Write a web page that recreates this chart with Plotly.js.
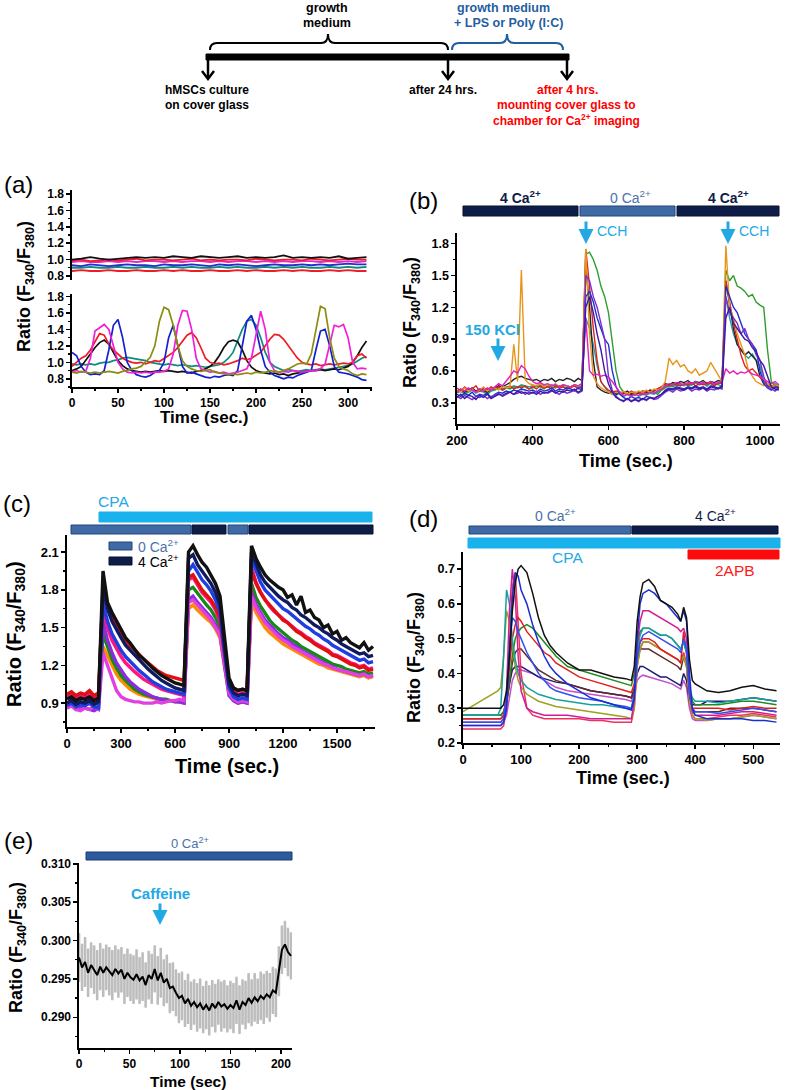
<!DOCTYPE html>
<html><head><meta charset="utf-8">
<script src="https://cdn.plot.ly/plotly-3.0.1.min.js"></script>
<style>html,body{margin:0;padding:0;background:#fff}#chart{width:787px;height:1090px}</style>
</head><body><div id="chart"></div>
<script>
// ---------------- DATA ----------------
// Panel (a) top: quiet cells (LPS / Poly(I:C) treated)
const tA10 = [0,10,20,30,40,50,60,70,80,90,100,110,120,130,140,150,160,170,180,190,200,210,220,230,240,250,260,270,280,290,300,310,320];
const aTopBlack = [1.00,1.01,1.03,1.01,1.00,1.01,1.02,1.03,1.02,1.03,1.02,1.04,1.03,1.02,1.04,1.03,1.02,1.03,1.04,1.02,1.03,1.02,1.03,1.05,1.02,1.03,1.02,1.03,1.02,1.04,1.01,1.02,1.03];
const aTopRed = [0.99,1.00,0.98,0.99,1.00,0.99,1.00,1.01,0.99,1.00,1.00,0.99,1.00,1.01,0.99,1.00,0.99,1.00,1.00,0.99,1.01,1.00,0.99,1.00,1.00,0.99,1.01,1.00,0.99,1.00,1.01,1.00,1.00];
const aTopMagenta = [0.97,0.98,0.97,0.97,0.98,0.97,0.98,0.97,0.98,0.98,0.97,0.98,0.97,0.98,0.98,0.97,0.98,0.97,0.98,0.98,0.97,0.98,0.97,0.98,0.97,0.98,0.98,0.97,0.98,0.97,0.98,0.97,0.98];
const aTopBlue = [0.93,0.92,0.94,0.93,0.92,0.93,0.94,0.93,0.93,0.92,0.94,0.93,0.93,0.94,0.93,0.92,0.94,0.93,0.94,0.93,0.92,0.93,0.94,0.93,0.93,0.94,0.93,0.94,0.93,0.94,0.95,0.94,0.94];
const aTopTeal = [0.90,0.90,0.91,0.90,0.90,0.91,0.90,0.90,0.91,0.90,0.90,0.91,0.90,0.91,0.90,0.90,0.91,0.90,0.91,0.90,0.90,0.91,0.90,0.91,0.90,0.91,0.90,0.90,0.91,0.90,0.91,0.90,0.91];
const aTopRed2 = [0.86,0.87,0.86,0.86,0.87,0.86,0.86,0.87,0.86,0.86,0.87,0.86,0.87,0.86,0.86,0.87,0.86,0.86,0.87,0.86,0.87,0.86,0.86,0.87,0.86,0.87,0.86,0.86,0.87,0.86,0.87,0.86,0.86];

// Panel (a) bottom: oscillating control cells
const tA5 = [0,5,10,15,20,25,30,35,40,45,50,55,60,65,70,75,80,85,90,95,100,105,110,115,120,125,130,135,140,145,150,155,160,165,170,175,180,185,190,195,200,205,210,215,220,225,230,235,240,245,250,255,260,265,270,275,280,285,290,295,300,305,310,315,320];
const aOlive = [0.88,0.87,0.89,0.88,0.87,0.88,0.87,0.88,0.89,0.88,0.87,0.89,0.90, 0.92,0.93,0.95,1.00,1.06,1.20,1.50,1.67,1.64,1.45,1.20,1.02, 0.95,0.92,0.90,0.89,0.90,0.91,0.88,0.87,0.86,0.85,0.86,0.85, 0.86,0.87,0.86,0.88,0.87,0.88,0.90,0.89,0.88,0.90,0.92,0.95, 0.98,0.99,0.98,1.10,1.40,1.68,1.65,1.30,1.05,0.95,0.92,0.90, 0.86,0.84,0.86,0.85];
const aMagenta = [0.88,0.90,0.88,0.89,1.05,1.38,1.42,1.46,1.40,1.20,1.00,0.92,0.88, 0.87,0.88,0.87,0.88,0.87,0.88,0.88,0.89,0.92,1.10,1.45,1.63, 1.62,1.40,1.05,0.92,0.90,0.88,0.89,0.87,0.88,0.86,0.87,0.88, 0.90,0.92,1.05,1.35,1.62,1.40,1.00,0.90,0.88,0.89,0.88,0.90, 0.89,0.88,0.89,0.90,0.90,0.92,0.98,1.20,1.45,1.43,1.46,1.30, 1.00,0.92,0.93,0.92];
const aBlue = [1.12,1.08,0.95,0.88,0.85,0.86,0.85,0.90,1.15,1.45,1.52,1.30,1.00, 0.90,0.85,0.83,0.82,0.84,0.88,0.90,1.00,1.30,1.45,1.20,0.95, 0.87,0.88,0.86,0.84,0.82,0.81,0.83,0.82,0.84,0.85,0.84,0.90, 1.20,1.50,1.57,1.40,1.15,0.95,0.88,0.84,0.82,0.80,0.82,0.81, 0.84,0.86,0.88,0.90,1.15,1.38,1.40,1.20,0.95,0.88,0.87,0.86, 0.84,0.82,0.79,0.78];
const aRed = [0.95,1.00,1.05,1.08,1.15,1.25,1.35,1.33,1.22,1.15,1.10,1.05,1.02, 1.00,0.99,1.00,0.98,1.00,1.02,1.01,1.05,1.08,1.12,1.18,1.25, 1.33,1.36,1.30,1.18,1.05,1.00,0.98,0.99,0.97,0.98,1.00,1.02, 1.05,1.03,1.05,1.08,1.12,1.20,1.28,1.34,1.33,1.28,1.20,1.12, 1.05,1.00,0.98,0.97,0.98,0.96,0.97,0.98,0.97,0.98,0.99,0.98, 1.00,1.08,1.10,1.05];
const aBlack = [0.90,0.92,0.95,1.02,1.10,1.18,1.24,1.27,1.22,1.12,1.02,0.96,0.92, 0.90,0.89,0.88,0.89,0.88,0.89,0.90,0.89,0.90,0.89,0.88,0.89, 0.88,0.87,0.89,0.90,0.92,0.95,1.00,1.08,1.18,1.25,1.27,1.25, 1.15,1.02,0.94,0.90,0.88,0.87,0.86,0.87,0.85,0.86,0.84,0.86, 0.87,0.88,0.89,0.90,0.90,0.91,0.90,0.91,0.92,0.91,0.93,0.95, 1.00,1.08,1.18,1.26];
const aTeal = [0.98,0.97,0.98,0.97,0.98,0.97,0.99,1.00,1.00,1.02,1.03,1.05,1.06, 1.05,1.04,1.03,1.02,1.00,0.99,0.98,0.97,0.98,0.97,0.96,0.97, 0.96,0.95,0.96,0.95,0.94,0.95,0.96,0.97,1.00,1.05,1.12,1.25, 1.40,1.50,1.52,1.45,1.30,1.12,1.00,0.95,0.92,0.90,0.91,0.90, 0.89,0.90,0.91,0.90,0.91,0.92,0.91,0.92,0.93,0.94,0.95,0.96, 0.98,1.02,1.05,1.07];

// Panel (b)
const tB = [200,210,220,230,240,250,260,270,280,290,300,310,320,330,340,350,360,370,380,390,400,410,420,430,440,450,460,470,480,490,500,510,520,530,540,550,560,570,580,590,600,610,620,630,640,650,660,670,680,690,700,710,720,730,740,750,760,770,780,790,800,810,820,830,840,850,860,870,880,890,900,910,920,930,940,950,960,970,980,990,1000,1010,1020,1030,1040,1050];
const bOrange = [0.42,0.40,0.44,0.41,0.43,0.40,0.42,0.45,0.41,0.43, 0.44,0.42,0.46,0.44,0.45,0.85,0.50,1.55,0.52,0.48, 0.47,0.46,0.48,0.45,0.47,0.46,0.48,0.45,0.47,0.46, 0.45,0.47,0.46,0.48,1.75,0.95,0.55,0.48,0.44,0.42, 0.40,0.38,0.40,0.39,0.41,0.38,0.40,0.39,0.41,0.40, 0.42,0.40,0.43,0.42,0.44,0.50,0.72,0.66,0.70,0.64, 0.66,0.60,0.58,0.62,0.56,0.58,0.60,0.68,0.62,0.55, 0.50,1.78,1.20,1.10,0.95,0.85,0.75,0.60,0.55,0.50, 0.48,0.46,0.48,0.45,0.47,0.46];
const bGreen = [0.40,0.42,0.39,0.41,0.43,0.40,0.42,0.41,0.39,0.42, 0.43,0.45,0.42,0.44,0.43,0.45,0.44,0.46,0.45,0.43, 0.44,0.46,0.45,0.43,0.46,0.45,0.44,0.46,0.45,0.44, 0.45,0.46,0.44,0.46,1.70,1.72,1.65,1.55,1.40,1.30, 1.15,0.90,0.60,0.45,0.40,0.38,0.39,0.37,0.40,0.38, 0.39,0.41,0.40,0.38,0.42,0.44,0.46,0.45,0.47,0.46, 0.48,0.46,0.47,0.49,0.47,0.48,0.46,0.49,0.48,0.47, 0.46,1.55,1.45,1.50,1.40,1.38,1.35,1.30,1.32,1.25, 1.22,1.20,0.80,0.50,0.46,0.45];
const bBlue = [0.38,0.36,0.39,0.37,0.40,0.36,0.38,0.37,0.39,0.35, 0.38,0.40,0.39,0.41,0.40,0.42,0.41,0.43,0.42,0.41, 0.42,0.40,0.43,0.41,0.42,0.44,0.41,0.43,0.42,0.44, 0.43,0.41,0.44,0.42,1.30,1.35,1.25,1.10,1.00,0.90, 0.85,0.60,0.45,0.38,0.35,0.33,0.36,0.34,0.35,0.33, 0.36,0.35,0.34,0.36,0.38,0.42,0.44,0.43,0.45,0.44, 0.43,0.45,0.44,0.46,0.44,0.45,0.43,0.46,0.45,0.44, 0.46,1.40,1.30,1.20,1.15,1.05,0.95,0.90,0.85,0.80, 0.60,0.48,0.44,0.42,0.45,0.43];
const bPurple = [0.36,0.34,0.37,0.35,0.33,0.36,0.35,0.37,0.34,0.36, 0.37,0.39,0.36,0.38,0.40,0.38,0.39,0.41,0.38,0.40, 0.39,0.41,0.38,0.40,0.39,0.41,0.40,0.38,0.41,0.39, 0.40,0.42,0.39,0.41,1.50,1.45,1.30,1.20,1.05,0.90, 0.55,0.42,0.36,0.33,0.31,0.34,0.32,0.33,0.31,0.34, 0.32,0.35,0.33,0.34,0.37,0.40,0.42,0.40,0.43,0.41, 0.42,0.44,0.41,0.43,0.42,0.44,0.41,0.43,0.42,0.44, 0.43,1.30,1.15,1.10,1.05,0.95,1.00,0.90,0.85,0.75, 0.70,0.55,0.45,0.43,0.41,0.44];
const bMagenta = [0.40,0.43,0.41,0.44,0.42,0.40,0.43,0.41,0.44,0.42, 0.45,0.48,0.46,0.50,0.55,0.60,0.58,0.65,0.62,0.55, 0.50,0.48,0.49,0.47,0.48,0.46,0.47,0.45,0.47,0.46, 0.45,0.47,0.46,0.48,1.10,0.60,0.56,0.57,0.55,0.56, 0.54,0.50,0.45,0.40,0.37,0.38,0.36,0.38,0.37,0.39, 0.38,0.40,0.39,0.41,0.43,0.46,0.48,0.47,0.49,0.48, 0.47,0.49,0.48,0.50,0.48,0.49,0.47,0.50,0.48,0.49, 0.50,0.62,0.58,0.60,0.57,0.59,0.58,0.60,0.57,0.56, 0.55,0.52,0.50,0.48,0.50,0.47];
const bBlack = [0.41,0.43,0.40,0.42,0.44,0.41,0.43,0.42,0.40,0.43, 0.44,0.46,0.45,0.47,0.49,0.52,0.54,0.55,0.53,0.52, 0.51,0.52,0.50,0.52,0.51,0.53,0.50,0.52,0.51,0.53, 0.52,0.50,0.53,0.51,1.60,1.20,0.70,0.45,0.42,0.40, 0.39,0.41,0.38,0.40,0.39,0.41,0.38,0.40,0.39,0.41, 0.40,0.42,0.41,0.43,0.45,0.48,0.47,0.49,0.48,0.50, 0.49,0.51,0.48,0.50,0.49,0.51,0.48,0.50,0.49,0.51, 0.50,1.45,1.20,1.00,0.85,0.80,0.75,0.78,0.74,0.70, 0.55,0.48,0.46,0.45,0.47,0.44];
const bRed = [0.44,0.41,0.45,0.42,0.43,0.46,0.41,0.44,0.42,0.45, 0.43,0.45,0.42,0.44,0.46,0.43,0.45,0.44,0.46,0.43, 0.45,0.43,0.46,0.44,0.45,0.43,0.46,0.44,0.45,0.43, 0.44,0.46,0.43,0.45,1.75,1.40,1.00,0.70,0.50,0.45, 0.42,0.40,0.41,0.39,0.40,0.38,0.41,0.39,0.40,0.38, 0.41,0.40,0.42,0.43,0.45,0.47,0.46,0.48,0.47,0.46, 0.48,0.47,0.49,0.46,0.48,0.47,0.49,0.48,0.46,0.49, 0.48,1.45,1.25,1.05,0.90,0.75,0.65,0.60,0.62,0.58, 0.55,0.50,0.48,0.46,0.44,0.47];
const bNavy = [0.35,0.38,0.34,0.37,0.36,0.33,0.37,0.35,0.38,0.34, 0.36,0.38,0.37,0.39,0.40,0.38,0.41,0.39,0.40,0.38, 0.40,0.38,0.41,0.39,0.40,0.42,0.39,0.41,0.40,0.42, 0.41,0.43,0.40,0.42,1.20,1.30,1.15,0.95,0.80,0.60, 0.48,0.40,0.35,0.33,0.32,0.34,0.31,0.33,0.32,0.34, 0.33,0.35,0.34,0.36,0.38,0.41,0.43,0.42,0.44,0.43, 0.42,0.44,0.43,0.45,0.43,0.44,0.42,0.45,0.44,0.43, 0.45,1.10,1.20,1.05,1.00,0.95,0.90,0.88,0.82,0.78, 0.70,0.65,0.55,0.45,0.43,0.42];
const bTeal = [0.39,0.41,0.38,0.40,0.42,0.39,0.41,0.40,0.38,0.41, 0.42,0.44,0.43,0.45,0.44,0.46,0.45,0.47,0.46,0.45, 0.46,0.45,0.47,0.46,0.45,0.47,0.46,0.45,0.47,0.46, 0.45,0.47,0.46,0.45,1.10,1.00,0.85,0.65,0.50,0.45, 0.40,0.38,0.37,0.39,0.36,0.38,0.37,0.39,0.36,0.38, 0.37,0.39,0.38,0.40,0.42,0.45,0.47,0.46,0.48,0.47, 0.46,0.48,0.47,0.49,0.47,0.48,0.46,0.49,0.47,0.48, 0.49,1.30,1.10,0.95,0.85,0.80,0.75,0.72,0.76,0.70, 0.65,0.50,0.47,0.45,0.48,0.46];

// Panel (c)
const tC = [0,25,50,75,100,125,150,175,200,225,250,275,300,325,350,375,400,425,450,475,500,525,550,575,600,625,650,675,700,725,750,775,800,825,850,875,900,925,950,975,1000,1025,1050,1075,1100,1125,1150,1175,1200,1225,1250,1275,1300,1325,1350,1375,1400,1425,1450,1475,1500,1525,1550,1575,1600,1625,1650,1675,1700];
const cOrange = [0.88,0.90,0.87,0.89,0.88,0.90,0.87,0.89, 1.35,1.28,1.20,1.13,1.08,1.04,1.01,0.99, 0.97,0.96,0.95,0.94,0.93,0.93,0.92,0.92, 0.91,0.91,0.90,1.65,1.68,1.64,1.60,1.57, 1.54,1.49,1.42,1.20,0.97,0.92,0.90,0.91, 0.90,1.70,1.62,1.56,1.50,1.46,1.43,1.40, 1.37,1.35,1.33,1.31,1.29,1.27,1.25,1.23, 1.21,1.20,1.18,1.17,1.16,1.15,1.14,1.13, 1.12,1.11,1.12,1.10,1.11];
const cGreen = [0.90,0.92,0.89,0.91,0.90,0.92,0.89,0.90, 1.45,1.35,1.25,1.18,1.12,1.08,1.04,1.01, 0.99,0.97,0.96,0.95,0.94,0.93,0.93,0.92, 0.92,0.91,0.91,1.80,1.82,1.77,1.72,1.68, 1.64,1.58,1.50,1.25,1.00,0.95,0.93,0.94, 0.93,1.85,1.74,1.67,1.61,1.56,1.52,1.49, 1.46,1.43,1.40,1.38,1.35,1.33,1.31,1.29, 1.27,1.25,1.23,1.21,1.20,1.19,1.17,1.16, 1.15,1.14,1.15,1.13,1.14];
const cPurple = [0.86,0.88,0.85,0.87,0.86,0.85,0.84,0.86, 1.55,1.40,1.30,1.22,1.16,1.11,1.07,1.04, 1.01,0.99,0.97,0.95,0.94,0.93,0.92,0.92, 0.91,0.91,0.90,1.72,1.75,1.70,1.66,1.62, 1.58,1.52,1.45,1.20,0.96,0.92,0.90,0.91, 0.90,1.78,1.68,1.62,1.56,1.52,1.48,1.45, 1.42,1.40,1.37,1.35,1.32,1.30,1.28,1.26, 1.24,1.22,1.20,1.19,1.17,1.16,1.15,1.14, 1.13,1.12,1.13,1.11,1.12];
const cMagenta = [0.86,0.88,0.85,0.84,0.86,0.85,0.87,0.85, 1.30,1.20,1.08,1.00,0.95,0.93,0.92,0.91, 0.91,0.90,0.90,0.90,0.91,0.90,0.91,0.92, 0.92,0.93,0.92,1.70,1.72,1.68,1.64,1.60, 1.56,1.50,1.44,1.22,0.98,0.93,0.91,0.92, 0.91,1.75,1.66,1.60,1.54,1.50,1.46,1.43, 1.40,1.38,1.35,1.33,1.31,1.29,1.27,1.25, 1.23,1.21,1.20,1.18,1.17,1.16,1.15,1.14, 1.13,1.12,1.13,1.11,1.12];
const cPink = [0.95,0.97,0.94,0.96,0.95,0.97,0.94,0.96, 1.65,1.50,1.40,1.33,1.27,1.22,1.18,1.15, 1.12,1.09,1.07,1.05,1.03,1.01,1.00,0.99, 0.98,0.97,0.96,1.88,1.90,1.84,1.78,1.74, 1.70,1.64,1.55,1.28,1.04,0.99,0.97,0.98, 0.97,1.98,1.86,1.78,1.72,1.67,1.63,1.60, 1.57,1.54,1.51,1.48,1.46,1.43,1.41,1.38, 1.36,1.34,1.32,1.29,1.28,1.26,1.24,1.22, 1.21,1.19,1.20,1.17,1.18];
const cRed = [0.97,0.99,0.96,0.98,0.97,1.00,0.96,0.98, 1.78,1.68,1.60,1.52,1.46,1.40,1.36,1.32, 1.28,1.25,1.22,1.19,1.16,1.14,1.12,1.11, 1.10,1.09,1.08,1.90,1.92,1.86,1.80,1.76, 1.72,1.66,1.58,1.30,1.06,1.02,1.00,1.01, 1.00,1.95,1.85,1.78,1.72,1.68,1.64,1.60, 1.56,1.54,1.50,1.47,1.45,1.42,1.40,1.37, 1.35,1.33,1.31,1.28,1.27,1.25,1.23,1.21, 1.20,1.18,1.19,1.16,1.17];
const cBlue = [0.88,0.90,0.87,0.89,0.88,0.90,0.87,0.86, 1.70,1.55,1.45,1.38,1.32,1.27,1.23,1.19, 1.16,1.13,1.10,1.07,1.05,1.03,1.01,1.00, 0.99,0.98,0.97,1.95,2.00,1.94,1.88,1.84, 1.79,1.72,1.62,1.30,1.02,0.95,0.93,0.94, 0.93,2.05,1.95,1.86,1.80,1.76,1.72,1.68, 1.65,1.63,1.60,1.57,1.54,1.51,1.49,1.46, 1.44,1.41,1.39,1.36,1.34,1.32,1.30,1.28, 1.26,1.24,1.25,1.22,1.23];
const cNavy = [0.90,0.92,0.89,0.91,0.90,0.92,0.89,0.91, 1.82,1.65,1.55,1.48,1.42,1.36,1.32,1.28, 1.24,1.20,1.17,1.14,1.11,1.08,1.06,1.04, 1.02,1.01,1.00,2.05,2.08,2.00,1.95,1.90, 1.85,1.78,1.68,1.35,1.05,0.98,0.96,0.97, 0.96,2.10,2.00,1.92,1.86,1.82,1.78,1.75, 1.72,1.70,1.66,1.64,1.60,1.58,1.55,1.52, 1.50,1.47,1.45,1.42,1.40,1.37,1.35,1.33, 1.31,1.29,1.30,1.27,1.28];
const cBlack = [0.93,0.95,0.92,0.94,0.93,0.95,0.92,0.94, 1.95,1.70,1.62,1.55,1.48,1.42,1.38,1.33, 1.28,1.25,1.21,1.18,1.15,1.12,1.10,1.08, 1.06,1.05,1.04,2.10,2.15,2.08,2.02,1.98, 1.92,1.85,1.75,1.40,1.10,1.02,1.00,1.01, 1.00,2.15,2.05,1.98,1.92,1.88,1.85,1.82, 1.80,1.74,1.76,1.68,1.75,1.62,1.64,1.58, 1.56,1.50,1.52,1.45,1.47,1.40,1.42,1.38, 1.36,1.34,1.38,1.32,1.35];

// Panel (d)
const tD = [0,20,40,60, 65,70,75,80,85,90,95,100, 110,120,130,140,150,160, 180,200,220,240,260,280, 290,295,300,305,310, 320,330,340,350,360,370, 375,380,385,390,395,400, 410,420,440,460,480,500,520,540];
const dBlack = [0.30,0.30,0.30,0.30, 0.30,0.31,0.35,0.45,0.58,0.66,0.70,0.71, 0.69,0.63,0.56,0.51,0.48,0.46, 0.43,0.41,0.41,0.40,0.39,0.385, 0.38,0.42,0.55,0.62,0.66, 0.67,0.65,0.61,0.60,0.59,0.57, 0.55,0.59,0.56,0.44,0.38,0.37, 0.36,0.35,0.345,0.35,0.36,0.365,0.355,0.35];
const dBlue = [0.25,0.25,0.25,0.25, 0.25,0.26,0.30,0.45,0.62,0.69,0.68,0.64, 0.60,0.54,0.49,0.45,0.42,0.40, 0.37,0.35,0.33,0.32,0.31,0.30, 0.295,0.33,0.50,0.60,0.63, 0.64,0.63,0.61,0.60,0.58,0.56, 0.55,0.58,0.55,0.40,0.30,0.28, 0.275,0.27,0.27,0.27,0.27,0.265,0.265,0.26];
const dTeal = [0.28,0.28,0.28,0.28, 0.30,0.45,0.64,0.60,0.50,0.44,0.40,0.38, 0.36,0.35,0.34,0.335,0.33,0.325, 0.32,0.315,0.31,0.31,0.305,0.30, 0.30,0.34,0.46,0.51,0.53, 0.53,0.52,0.51,0.51,0.50,0.48, 0.47,0.49,0.46,0.36,0.33,0.32, 0.32,0.32,0.315,0.32,0.325,0.33,0.325,0.32];
const dOlive = [0.29,0.31,0.33,0.35, 0.36,0.45,0.58,0.55,0.48,0.42,0.38,0.36, 0.34,0.33,0.32,0.315,0.31,0.305, 0.30,0.295,0.29,0.285,0.28,0.275, 0.27,0.30,0.42,0.47,0.49, 0.49,0.48,0.47,0.46,0.45,0.44, 0.43,0.45,0.42,0.32,0.28,0.27, 0.27,0.265,0.27,0.27,0.275,0.28,0.275,0.27];
const dMagenta = [0.26,0.26,0.26,0.26, 0.26,0.27,0.35,0.58,0.70,0.62,0.45,0.35, 0.30,0.29,0.285,0.28,0.28,0.28, 0.28,0.275,0.27,0.27,0.27,0.27, 0.27,0.32,0.48,0.55,0.58, 0.58,0.57,0.56,0.55,0.54,0.53, 0.52,0.53,0.50,0.35,0.29,0.28, 0.28,0.28,0.28,0.285,0.29,0.29,0.285,0.28];
const dRed = [0.27,0.27,0.27,0.27, 0.27,0.28,0.32,0.42,0.50,0.54,0.56,0.55, 0.52,0.50,0.48,0.46,0.45,0.43, 0.41,0.39,0.38,0.37,0.36,0.35, 0.345,0.37,0.46,0.49,0.50, 0.50,0.49,0.47,0.46,0.45,0.44, 0.43,0.52,0.46,0.34,0.30,0.30, 0.30,0.30,0.30,0.295,0.30,0.305,0.30,0.30];
const dGreen = [0.28,0.28,0.28,0.28, 0.28,0.29,0.32,0.38,0.45,0.50,0.52,0.53, 0.54,0.53,0.51,0.49,0.47,0.45, 0.42,0.41,0.40,0.39,0.38,0.37, 0.365,0.40,0.48,0.52,0.53, 0.53,0.52,0.51,0.51,0.50,0.48, 0.47,0.49,0.46,0.35,0.32,0.31, 0.31,0.31,0.31,0.315,0.32,0.32,0.315,0.31];
const dMaroon = [0.27,0.27,0.27,0.27, 0.27,0.28,0.31,0.37,0.43,0.46,0.47,0.47, 0.45,0.43,0.41,0.40,0.39,0.38, 0.37,0.36,0.35,0.345,0.34,0.335, 0.33,0.36,0.44,0.47,0.47, 0.47,0.46,0.45,0.44,0.43,0.42, 0.41,0.45,0.42,0.32,0.29,0.29, 0.29,0.29,0.29,0.30,0.30,0.30,0.295,0.29];
const dNavy = [0.28,0.28,0.28,0.28, 0.28,0.29,0.32,0.37,0.41,0.42,0.42,0.42, 0.41,0.40,0.39,0.385,0.38,0.375, 0.37,0.36,0.35,0.345,0.34,0.335, 0.33,0.35,0.40,0.42,0.42, 0.41,0.40,0.39,0.39,0.38,0.37, 0.365,0.40,0.38,0.32,0.31,0.31, 0.31,0.32,0.32,0.32,0.325,0.33,0.325,0.32];
const dViolet = [0.25,0.25,0.25,0.25, 0.25,0.26,0.28,0.33,0.38,0.40,0.41,0.41, 0.405,0.40,0.39,0.38,0.37,0.36, 0.35,0.345,0.34,0.335,0.33,0.325, 0.32,0.34,0.38,0.39,0.395, 0.39,0.385,0.38,0.375,0.37,0.36, 0.355,0.38,0.36,0.30,0.27,0.265, 0.265,0.265,0.27,0.27,0.275,0.28,0.275,0.27];
const dPinkRed = [0.24,0.24,0.24,0.24, 0.24,0.25,0.30,0.48,0.65,0.69,0.55,0.40, 0.30,0.28,0.275,0.27,0.27,0.27, 0.27,0.27,0.265,0.265,0.26,0.26, 0.26,0.30,0.42,0.47,0.49, 0.49,0.48,0.47,0.46,0.45,0.44, 0.43,0.46,0.43,0.32,0.28,0.27, 0.27,0.27,0.275,0.28,0.28,0.285,0.28,0.275];
const dBlue2 = [0.26,0.26,0.26,0.26, 0.26,0.27,0.33,0.48,0.56,0.55,0.52,0.50, 0.46,0.43,0.40,0.38,0.36,0.35, 0.34,0.33,0.325,0.32,0.31,0.305, 0.30,0.33,0.44,0.49,0.51, 0.52,0.51,0.50,0.49,0.48,0.47, 0.46,0.50,0.47,0.34,0.30,0.29, 0.29,0.29,0.285,0.29,0.295,0.30,0.295,0.29];

// Panel (e): mean +/- error
const tE = [0,3,6,9,12,15,18,21,24,27,30,33,36,39,42,45,48,51,54,57,60,63,66,69,72,75,78,81,84,87,90,93,96,99,102,105,108,111,114,117,120,123,126,129,132,135,138,141,144,147,150,153,156,159,162,165,168,171,174,177,180,183,186,189,192,195,198,201,204,207,210];
const eMean = [0.2978,0.2965,0.2972,0.2958,0.2968,0.2962,0.2955,0.2966,0.2958,0.2965, 0.2960,0.2955,0.2963,0.2957,0.2962,0.2950,0.2958,0.2952,0.2949,0.2956, 0.2948,0.2953,0.2942,0.2955,0.2950,0.2963,0.2948,0.2958,0.2945,0.2950, 0.2938,0.2940,0.2932,0.2925,0.2928,0.2918,0.2924,0.2915,0.2920,0.2913, 0.2918,0.2910,0.2916,0.2909,0.2918,0.2912,0.2920,0.2914,0.2917,0.2911, 0.2916,0.2912,0.2922,0.2910,0.2920,0.2916,0.2925,0.2919,0.2926,0.2921, 0.2928,0.2924,0.2930,0.2926,0.2935,0.2932,0.2960,0.2988,0.2995,0.2985, 0.2980];
const eErr = [0.0030,0.0029,0.0031,0.0030,0.0028,0.0030,0.0031,0.0029,0.0030,0.0028, 0.0030,0.0031,0.0029,0.0030,0.0028,0.0031,0.0030,0.0029,0.0030,0.0031, 0.0029,0.0030,0.0028,0.0030,0.0031,0.0029,0.0030,0.0031,0.0029,0.0030, 0.0031,0.0030,0.0029,0.0031,0.0030,0.0029,0.0031,0.0030,0.0028,0.0030, 0.0031,0.0029,0.0030,0.0031,0.0029,0.0030,0.0028,0.0031,0.0030,0.0029, 0.0030,0.0031,0.0029,0.0030,0.0028,0.0030,0.0031,0.0029,0.0030,0.0028, 0.0030,0.0031,0.0029,0.0030,0.0029,0.0030,0.0031,0.0030,0.0029,0.0030, 0.0029];

// ---------------- LAYOUT HELPERS ----------------
const W = 787, H = 1090;
const FONT = 'Liberation Sans, Arial, sans-serif';
const px = x => x / W, py = y => 1 - y / H;
const NAVY = '#0e1c48', STEEL = '#3f6aa6', STEELTXT = '#4b72ab', CYAN = '#19b2ec', ARROW = '#22a9e3';

function common(dtick, minor, size, fmt) {
  const o = {showline:true, linecolor:'#000', linewidth:1.6, mirror:false,
    ticks:'outside', ticklen:4, tickwidth:1.5, tickcolor:'#000',
    showgrid:false, zeroline:false, tick0:0, dtick:dtick, fixedrange:true,
    tickfont:{family:FONT, size:size, color:'#000', weight:'bold'},
    minor:{dtick:minor, ticks:'outside', ticklen:2.5, tickwidth:1.2, tickcolor:'#000', showgrid:false}};
  if (fmt) o.tickformat = fmt;
  return o;
}
function xAx(l, r, range, dtick, minor, anchor, size) {
  return Object.assign(common(dtick, minor, size), {domain:[px(l), px(r)], range:range, anchor:anchor});
}
function yAx(top, bot, range, dtick, minor, anchor, size, fmt) {
  return Object.assign(common(dtick, minor, size, fmt), {domain:[py(bot), py(top)], range:range, anchor:anchor});
}

function ln(x, y, color, xa, ya, w) {
  return {type:'scatter', mode:'lines', x:x, y:y, xaxis:xa, yaxis:ya,
          line:{color:color, width:w}, hoverinfo:'skip'};
}

const traces = [];
// (a) top
[[aTopRed2,'#ee1c24'],[aTopTeal,'#108a80'],[aTopBlue,'#2030c8'],[aTopMagenta,'#ee22cc'],[aTopRed,'#ee1c24'],[aTopBlack,'#111']]
  .forEach(([v,c]) => traces.push(ln(tA10, v, c, 'x', 'y', 1.8)));
// (a) bottom
[[aTeal,'#108a80'],[aBlack,'#111'],[aRed,'#ee1c24'],[aBlue,'#1420d0'],[aMagenta,'#f020d8'],[aOlive,'#8c8c10']]
  .forEach(([v,c]) => traces.push(ln(tA5, v, c, 'x', 'y2', 1.7)));
// (b)
[[bTeal,'#20a0a0'],[bGreen,'#2e9e2e'],[bBlack,'#222'],[bRed,'#e02020'],[bOrange,'#e8951a'],[bBlue,'#2030d0'],[bPurple,'#7a2fd0'],[bMagenta,'#e020c0'],[bNavy,'#3a1aa0']]
  .forEach(([v,c]) => traces.push(ln(tB, v, c, 'x2', 'y3', 1.4)));
// (c)
[[cOrange,'#ff8c00'],[cGreen,'#168a16'],[cPurple,'#8a2be2'],[cMagenta,'#e040e0'],[cPink,'#ff1480'],[cRed,'#e01010'],[cBlue,'#1f3fe0'],[cNavy,'#101a60'],[cBlack,'#111']]
  .forEach(([v,c]) => traces.push(ln(tC, v, c, 'x3', 'y4', 3.4)));
// (d)
[[dViolet,'#c050d0'],[dNavy,'#1a1a70'],[dMaroon,'#602828'],[dPinkRed,'#f03060'],[dOlive,'#a0a020'],[dGreen,'#208a20'],[dRed,'#e02020'],[dTeal,'#18a0a0'],[dMagenta,'#d02090'],[dBlue2,'#3050f0'],[dBlue,'#1a2fd0'],[dBlack,'#111']]
  .forEach(([v,c]) => traces.push(ln(tD, v, c, 'x4', 'y5', 1.5)));
// (e)
traces.push({type:'scatter', mode:'lines', x:tE, y:eMean, xaxis:'x5', yaxis:'y6',
  line:{color:'#000', width:2}, hoverinfo:'skip',
  error_y:{type:'data', array:eErr, visible:true, color:'#bdbdbd', thickness:2.6, width:1.2}});

// ---------------- SHAPES ----------------
const shapes = [];
function rect(x0, x1, y0, y1, fill, line) {
  shapes.push({type:'rect', xref:'paper', yref:'paper', x0:px(x0), x1:px(x1), y0:py(y1), y1:py(y0),
    fillcolor:fill, line:{color:line || fill, width:1}, layer:'above'});
}
function path(d, color, w, fill) {
  let s = '';
  d.forEach(p => {
    s += p[0] + px(p[1]) + ',' + py(p[2]);
    if (p.length > 3) s += ' ' + px(p[3]) + ',' + py(p[4]);
    s += ' ';
  });
  shapes.push({type:'path', xref:'paper', yref:'paper', path:s.trim(), line:{color:color, width:w},
    fillcolor: fill || 'rgba(0,0,0,0)', layer:'above'});
}
// top diagram
rect(206, 569, 54, 60, '#000');
[208, 448, 567].forEach(x => {
  path([['M',x,57],['L',x,79]], '#000', 2.5);
  path([['M',x-6,71],['L',x,79],['L',x+6,71]], '#000', 2.5);
});
path([['M',210,50],['Q',210,43,217,43],['L',321,43],['Q',328,43,328,34],['Q',328,43,335,43],['L',441,43],['Q',448,43,448,50]], '#000', 2);
path([['M',452,50],['Q',452,43,459,43],['L',500,43],['Q',507,43,507,34],['Q',507,43,514,43],['L',556,43],['Q',563,43,563,50]], '#1f5f9f', 2);

// (b) bars
rect(463, 578, 206, 216, NAVY, '#07102e');
rect(580, 675, 206, 216, STEEL, '#22447a');
rect(677, 779, 206, 216, NAVY, '#07102e');
// (c) bars
rect(99, 372, 512, 522, CYAN);
rect(71, 191, 525, 534, STEEL, '#22447a');
rect(192, 226, 525, 534, NAVY, '#07102e');
rect(228, 248, 525, 534, STEEL, '#22447a');
rect(249, 373, 525, 534, NAVY, '#07102e');
rect(109, 132, 542, 550, STEEL, '#22447a');
rect(109, 132, 557, 565, NAVY, '#07102e');
// (d) bars
rect(469, 631, 526, 534, STEEL, '#22447a');
rect(632, 778, 526, 534, NAVY, '#07102e');
rect(468, 780, 538, 548, CYAN);
rect(688, 779, 550, 559, '#ff0a0a');
// (e) bar
rect(86, 292, 852, 860, '#2c5a9c', '#1c3c70');

// ---------------- ANNOTATIONS ----------------
const ann = [];
function T(text, x, y, size, color, opts) {
  ann.push(Object.assign({text:text, x:px(x), y:py(y), xref:'paper', yref:'paper', showarrow:false,
    xanchor:'center', yanchor:'middle', font:{family:FONT, size:size, color:color || '#000'}}, opts || {}));
}
function B(text, x, y, size, color, opts) {
  T(text, x, y, size, color, opts);
  ann[ann.length-1].font.weight = 'bold';
}
function arrow(x, yTip, len) {
  ann.push({text:'', x:px(x), y:py(yTip), xref:'paper', yref:'paper', showarrow:true,
    ax:0, ay:-len, arrowhead:2, arrowsize:1, arrowwidth:3, arrowcolor:ARROW});
}
// diagram texts
B('growth', 327, 8, 12.5);
B('medium', 327, 23, 12.5);
B('growth medium', 503, 8, 12.5, '#1f5f9f');
B('+ LPS or Poly (I:C)', 508, 23, 12.5, '#1f5f9f');
B('hMSCs culture', 163, 90, 12, '#000', {xanchor:'left'});
B('on cover glass', 163, 105, 12, '#000', {xanchor:'left'});
B('after 24 hrs.', 407, 90, 12, '#000', {xanchor:'left'});
B('after 4 hrs.', 567, 90, 12, '#ff0000');
B('mounting cover glass to', 566, 105, 12, '#ff0000');
B('chamber for Ca<sup>2+</sup> imaging', 566, 120, 12, '#ff0000');

// panel letters
T('(a)', 18, 185, 24);
T('(b)', 423, 201, 24);
T('(c)', 17, 503, 24);
T('(d)', 423, 518, 24);
T('(e)', 18, 840, 24);

// y titles
const RT = 'Ratio (F<sub>340</sub>/F<sub>380</sub>)';
B(RT, 25, 287, 18, '#000', {textangle:-90});
B(RT, 412, 323, 18, '#000', {textangle:-90});
B(RT, 15, 634, 20, '#000', {textangle:-90});
B(RT, 415, 658, 18, '#000', {textangle:-90});
B(RT, 17, 948, 18, '#000', {textangle:-90});
// x titles
B('Time (sec.)', 204, 418, 17);
B('Time (sec.)', 626, 461, 18);
B('Time (sec.)', 227, 766, 20);
B('Time (sec.)', 623, 778, 18);
B('Time (sec)', 188, 1081, 15.5);

// (b) labels
B('4 Ca<sup>2+</sup>', 520, 197, 14, '#0e1c48');
T('0 Ca<sup>2+</sup>', 630, 197, 14, STEELTXT);
B('4 Ca<sup>2+</sup>', 728, 197, 14, '#0e1c48');
arrow(586, 244, 24);
arrow(728, 244, 24);
T('CCH', 595, 231, 14, ARROW, {xanchor:'left'});
T('CCH', 737, 231, 14, ARROW, {xanchor:'left'});
B('150 KCl', 493, 330, 15, ARROW);
arrow(498, 361, 24);
// (c) labels
T('CPA', 113, 501, 15.5, ARROW);
T('0 Ca<sup>2+</sup>', 136, 546, 14, STEELTXT, {xanchor:'left'});
T('4 Ca<sup>2+</sup>', 136, 561, 14, '#000', {xanchor:'left'});
// (d) labels
T('0 Ca<sup>2+</sup>', 555, 515, 14, STEELTXT);
T('4 Ca<sup>2+</sup>', 715, 515, 14, '#0e1c48');
T('CPA', 567, 557, 15.5, ARROW);
T('2APB', 735, 571, 15.5, '#ff1a1a');
// (e) labels
T('0 Ca<sup>2+</sup>', 190, 843, 13, STEELTXT);
B('Caffeine', 160, 893, 15, ARROW);
arrow(160, 925, 23);

const layout = {
  width:W, height:H, margin:{l:0, r:0, t:0, b:0}, showlegend:false,
  paper_bgcolor:'#fff', plot_bgcolor:'rgba(0,0,0,0)',
  xaxis:  xAx(72, 372, [0, 326], 50, 25, 'y2', 12),
  yaxis:  yAx(190, 280, [0.75, 1.85], 0.2, 0.1, 'x', 12, '.1f'),
  yaxis2: yAx(294, 387, [0.70, 1.83], 0.2, 0.1, 'x', 12, '.1f'),
  xaxis2: xAx(457, 780, [200, 1053], 200, 100, 'y3', 13),
  yaxis3: yAx(233, 424, [0.1, 1.9], 0.3, 0.15, 'x2', 12.5, '.1f'),
  xaxis3: xAx(67, 375, [0, 1711], 300, 150, 'y4', 13),
  yaxis4: yAx(535, 727, [0.71, 2.236], 0.3, 0.15, 'x3', 13, '.1f'),
  xaxis4: xAx(463, 780, [0, 546], 100, 50, 'y5', 13),
  yaxis5: yAx(552, 743, [0.2, 0.749], 0.1, 0.05, 'x4', 12.5, '.1f'),
  xaxis5: xAx(79, 292, [0, 211], 50, 25, 'y6', 12),
  yaxis6: yAx(863, 1048, [0.286, 0.3101], 0.005, 0.0025, 'x5', 12, '.3f'),
  shapes:shapes, annotations:ann
};
Plotly.newPlot('chart', traces, layout, {staticPlot:true, displayModeBar:false});
</script>
</body></html>
